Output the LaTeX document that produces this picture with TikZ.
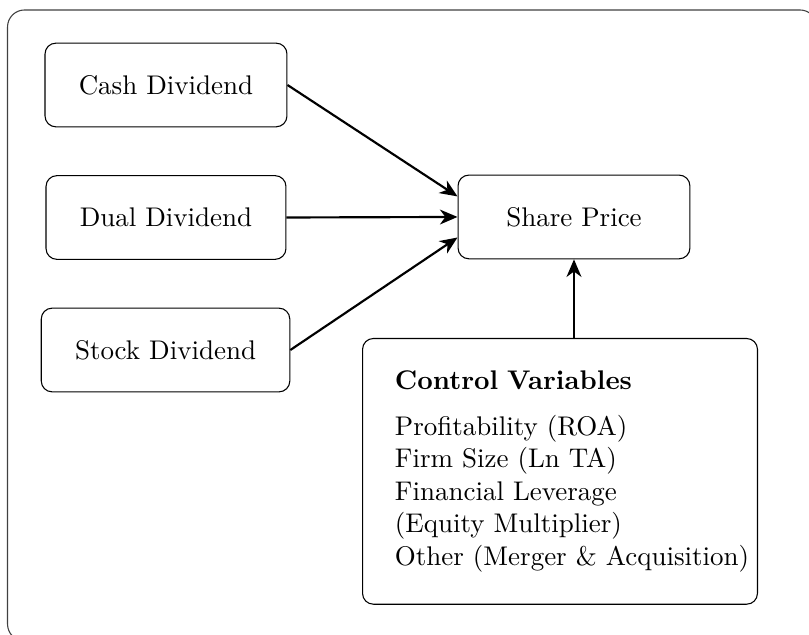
\documentclass[tikz,border=0pt]{standalone}
\usepackage{tikz}
\usepackage{amsmath}
\usepackage{xcolor}
\usetikzlibrary{arrows.meta,positioning,calc}

\begin{document}
\begin{tikzpicture}[
    var/.style={rectangle, draw, rounded corners=4pt, inner xsep=12.5pt,
                minimum height=1.09cm, align=center},
    ctl/.style={rectangle, draw, rounded corners=4pt, inner sep=12pt,
                text width=4.3cm, align=left, anchor=north},
    link/.style={-{Stealth[length=6.5pt, width=5.5pt, inset=2pt]}, thick}
  ]
  \useasboundingbox (0,0) rectangle (10.537,-8.258);
  \draw[rounded corners=6.3pt, black!75] (0.098,-0.130) rectangle (10.64,-8.35);

  \node[var] (cash)  at (2.162,-1.107) {Cash Dividend};
  \node[var] (dual)  at (2.162,-2.833) {Dual Dividend};
  \node[var] (stock) at (2.156,-4.559) {Stock Dividend};
  \node[var, minimum width=3.02cm] (price) at (7.476,-2.826) {Share Price};
  \node[ctl] (ctrl) at (7.294,-4.402)
    {\textbf{Control Variables}\\[5pt]
     Profitability (ROA)\\
     Firm Size (Ln TA)\\
     Financial Leverage\\
     (Equity Multiplier)\\
     \mbox{Other (Merger \& Acquisition)}};

  \draw[link] (cash.east)  -- (price.170);
  \draw[link] (dual.east)  -- (price.west);
  \draw[link] (stock.east) -- (price.190);
  \draw[link] (ctrl.north -| price) -- (price.south);
\end{tikzpicture}
\end{document}
